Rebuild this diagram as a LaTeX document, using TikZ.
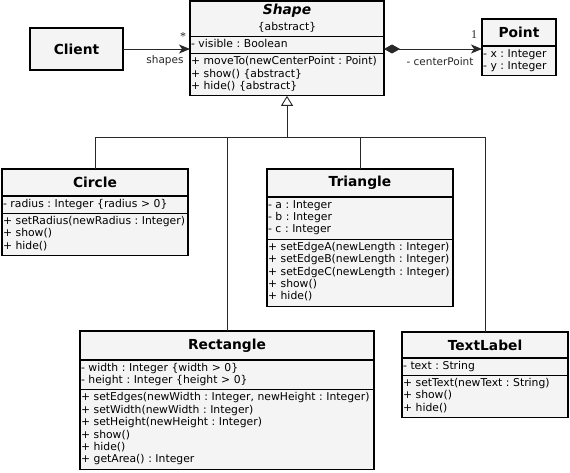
\documentclass[tikz,border=0pt]{standalone}
\usepackage{fontspec}
\setmainfont{DejaVu Sans}
\newfontfamily\multfont{Liberation Serif}
\usetikzlibrary{positioning,arrows.meta}
\definecolor{boxfill}{RGB}{244,244,244}
\definecolor{linegray}{RGB}{40,40,40}
\frenchspacing
\tikzset{
  cls/.style={draw,line width=1.1pt,fill=boxfill,outer sep=0pt,inner xsep=1pt,inner ysep=2.5pt,text width=#1,font=\fontsize{10.8}{12.4}\selectfont},
  ttl/.style={cls=#1,align=center,minimum height=27pt,font=\fontsize{13.8}{16}\selectfont\bfseries},
  mem/.style={cls=#1,align=left,execute at begin node={\hyphenpenalty=10000\relax\strut},execute at end node=\strut},
  lbl/.style={inner sep=0pt,text=black!85,font=\fontsize{10.5}{12}\selectfont},
  assoc/.style={-{Stealth[length=11pt,width=9pt,inset=3pt]},line width=0.9pt,draw=linegray},
  comp/.style={{Diamond[length=16pt,width=9pt]}-{Stealth[length=11pt,width=9pt,inset=3pt]},line width=0.9pt,draw=linegray},
  inh/.style={line width=0.9pt,draw=linegray},
}
\begin{document}
\begin{tikzpicture}[x=1pt,y=-1pt,node distance=0pt]
  \useasboundingbox (0,0) rectangle (570,473);
  % client and the abstract base class
  \node[ttl=91pt,minimum height=42pt] (cl) at (76.5,49) {Client};
  \node[ttl=192pt,minimum height=35pt,inner ysep=3.5pt,anchor=north west] (shp) at (190,1) {\textit{Shape}\\[0pt]{\fontsize{10.8}{12.4}\selectfont\mdseries\{abstract\}}};
  \node[mem=192pt,below=of shp] (shpA) {- visible : Boolean};
  \node[mem=192pt,below=of shpA] (shpO) {+ moveTo(newCenterPoint : Point)\\+ show() \{abstract\}\\+ hide() \{abstract\}};
  \node[ttl=72pt,anchor=north west] (pt) at (482,19) {Point};
  \node[mem=72pt,below=of pt] (ptA) {- x : Integer\\- y : Integer};
  % subclasses
  \node[ttl=184pt,anchor=north west] (cir) at (2,169) {Circle};
  \node[mem=184pt,below=of cir] (cirA) {- radius : Integer \{radius > 0\}};
  \node[mem=184pt,below=of cirA] (cirO) {+ setRadius(newRadius : Integer)\\+ show()\\+ hide()};
  \node[ttl=184pt,minimum height=28pt,anchor=north west] (tri) at (267,169) {Triangle};
  \node[mem=184pt,below=of tri] (triA) {- a : Integer\\- b : Integer\\- c : Integer};
  \node[mem=184pt,below=of triA] (triO) {+ setEdgeA(newLength : Integer)\\+ setEdgeB(newLength : Integer)\\+ setEdgeC(newLength : Integer)\\+ show()\\+ hide()};
  \node[ttl=292pt,minimum height=29pt,anchor=north west] (rec) at (80,331) {Rectangle};
  \node[mem=292pt,below=of rec] (recA) {- width : Integer \{width > 0\}\\- height : Integer \{height > 0\}};
  \node[mem=292pt,below=of recA] (recO) {+ setEdges(newWidth : Integer, newHeight : Integer)\\+ setWidth(newWidth : Integer)\\+ setHeight(newHeight : Integer)\\+ show()\\+ hide()\\+ getArea() : Integer};
  \node[ttl=164pt,minimum height=26pt,anchor=north west] (txt) at (402,332) {TextLabel};
  \node[mem=164pt,below=of txt] (txtA) {- text : String};
  \node[mem=164pt,below=of txtA] (txtO) {+ setText(newText : String)\\+ show()\\+ hide()};
  % associations
  \draw[assoc] (cl.east) -- (cl.east -| shp.west);
  \draw[comp] (shp.east |- cl.east) -- (pt.west |- cl.east);
  \node[lbl] (mulA) at (183,37) {\multfont\large *};
  \node[lbl] (roleA) at (165,61) {shapes};
  \node[lbl] (mulB) at (474,35) {\multfont\large 1};
  \node[lbl] (roleB) at (440,62) {- centerPoint};
  % generalization
  \coordinate (bus) at (0,137);
  \draw[inh] (cir.north) |- (txt.north |- bus) -- (txt.north);
  \draw[inh] (rec.north) -- (rec.north |- bus);
  \draw[inh] (tri.north) -- (tri.north |- bus);
  \draw[inh,-{Triangle[open,length=10pt,width=12pt]}] (shpO.south |- bus) -- (shpO.south);
\end{tikzpicture}
\end{document}
